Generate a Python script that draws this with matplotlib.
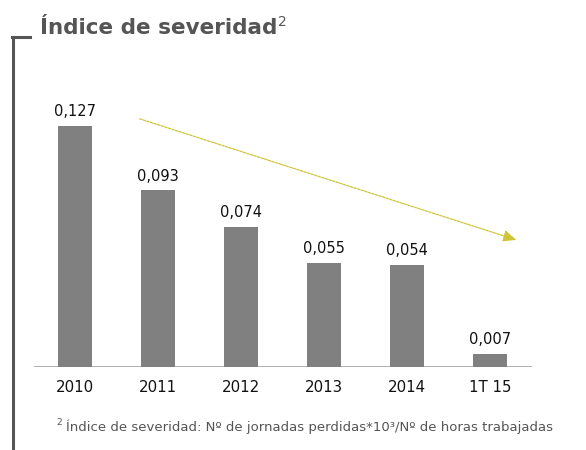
import matplotlib
matplotlib.use("Agg")
import matplotlib.pyplot as plt
from matplotlib.lines import Line2D

categories = ["2010", "2011", "2012", "2013", "2014", "1T 15"]
values = [0.127, 0.093, 0.074, 0.055, 0.054, 0.007]
value_labels = ["0,127", "0,093", "0,074", "0,055", "0,054", "0,007"]

W, H = 586, 450
fig = plt.figure(figsize=(W / 100, H / 100), dpi=100)
fig.patch.set_facecolor("white")

# axes placement (pixels)
left_px, right_px = 33.5, 531.5
base_px, top_px = 367, 101.3
ax = fig.add_axes([left_px / W, (H - base_px) / H, (right_px - left_px) / W, (base_px - top_px) / H])
ax.set_xlim(-0.5, 5.5)
ax.set_ylim(0, 0.14)

x = list(range(len(categories)))
ax.bar(x, values, width=0.4, color="#808080", zorder=2)
for xi, v, lab in zip(x, values, value_labels):
    ax.annotate(lab, (xi, v), xytext=(0, 5), textcoords="offset points",
                ha="center", va="bottom", fontsize=10.5, color="#111111")

for s in ax.spines.values():
    s.set_visible(False)
ax.axhline(0, color="#a8a8a8", lw=1.3, zorder=1)
ax.set_yticks([])
ax.set_xticks(x)
ax.set_xticklabels(categories, fontsize=10.8, color="#111111")
ax.tick_params(axis="x", length=0, pad=9)

# trend arrow
ax.annotate("", xy=(5.35, 0.0665), xytext=(0.747, 0.1312),
            arrowprops=dict(arrowstyle="-|>,head_length=0.8,head_width=0.35",
                            color="#cfc53a", lw=0.9, linestyle=(0, (2, 1))),
            annotation_clip=False)

# bracket
fig.add_artist(Line2D([13 / W, 13 / W], [0, 1 - 37 / H], color="#555555", lw=2.2))
fig.add_artist(Line2D([12 / W, 30 / W], [1 - 37 / H, 1 - 37 / H], color="#555555", lw=2.2))

# title
title = fig.text(40 / W, 1 - 34 / H, "Índice de severidad", fontsize=15.5, fontweight="bold",
                 color="#555555", va="baseline", ha="left")
fig.canvas.draw()
bb = title.get_window_extent(renderer=fig.canvas.get_renderer())
fig.text((bb.x1 + 1) / W, 1 - 26 / H, "2", fontsize=10, color="#555555", va="baseline", ha="left")

# footnote
fig.text(56 / W, 1 - 425 / H, "2", fontsize=6.5, color="#555555", va="baseline", ha="left")
fig.text(66 / W, 1 - 431 / H,
         "Índice de severidad: Nº de jornadas perdidas*10³/Nº de horas trabajadas",
         fontsize=9.5, color="#555555", va="baseline", ha="left")

fig.savefig("out.png", dpi=100)
